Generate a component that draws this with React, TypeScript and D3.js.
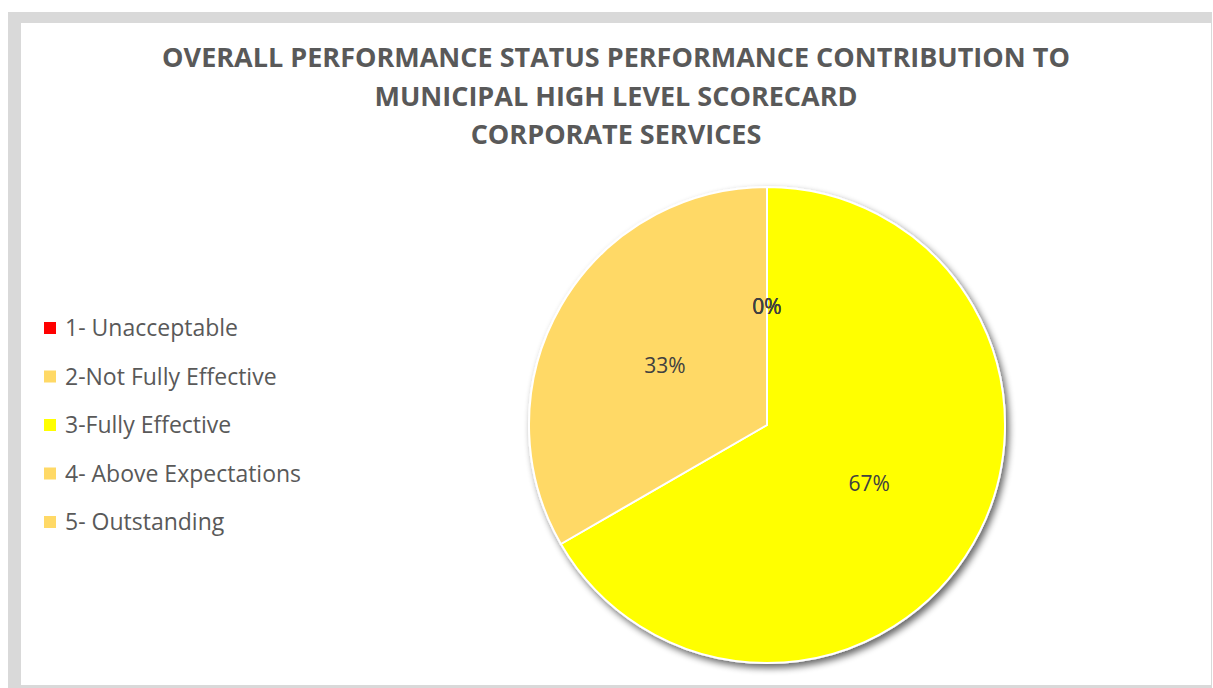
import React from "react";
import * as d3 from "d3";

const categories = ["1- Unacceptable", "2-Not Fully Effective", "3-Fully Effective", "4- Above Expectations", "5- Outstanding"];
const values = [0, 0, 2, 1, 0];
const colors = ["#ff0000", "#ffd966", "#ffff00", "#ffd966", "#ffd966"];
const titleLines = ["OVERALL PERFORMANCE STATUS PERFORMANCE CONTRIBUTION TO", "MUNICIPAL HIGH LEVEL SCORECARD", "CORPORATE SERVICES"];

const W = 1213, H = 688;
const cx = 767, cy = 425, R = 238;
const FONT = "'Open Sans', sans-serif";

export default function App() {
  const total = d3.sum(values);
  const pie = d3.pie<number>().sort(null).value((d) => d);
  const arcs = pie(values);
  const arc = d3.arc<d3.PieArcDatum<number>>().innerRadius(0).outerRadius(R);
  const labelArc = d3.arc<d3.PieArcDatum<number>>().innerRadius(118).outerRadius(118);
  const fmt = d3.format(".0%");
  const legendY = d3.scalePoint<string>().domain(categories).range([328, 522]);

  return (
    <svg width={W} height={H} style={{ position: "absolute", left: 0, top: 0, background: "#fff" }}>
      <defs>
        <filter id="sh" x="-20%" y="-20%" width="140%" height="140%">
          <feGaussianBlur in="SourceAlpha" stdDeviation="3.5" />
          <feOffset dx="3" dy="4" result="b" />
          <feComponentTransfer>
            <feFuncA type="linear" slope="0.6" />
          </feComponentTransfer>
          <feMerge>
            <feMergeNode />
            <feMergeNode in="SourceGraphic" />
          </feMerge>
        </filter>
      </defs>
      <rect x={8} y={12} width={1204} height={680} fill="#d9d9d9" />
      <rect x={21} y={23} width={1190} height={662} fill="#ffffff" />
      {titleLines.map((t, i) => (
        <text key={i} x={616} y={67 + i * 38.5} textAnchor="middle" fontFamily={FONT} fontWeight="bold" fontSize={27} fill="#595959">
          {t}
        </text>
      ))}
      <g transform={`translate(${cx},${cy})`}>
        <g filter="url(#sh)">
          {arcs.map((a, i) => (
            <path key={i} d={arc(a) || ""} fill={colors[i]} stroke="#fff" strokeWidth={2} />
          ))}
        </g>
        {arcs.map((a, i) => {
          const [x, y] = labelArc.centroid(a);
          return (
            <text key={i} x={x} y={y} dy="0.35em" textAnchor="middle" fontFamily={FONT} fontSize={21} fill="#404040">
              {fmt(values[i] / total)}
            </text>
          );
        })}
      </g>
      {categories.map((c, i) => (
        <g key={c} transform={`translate(0,${legendY(c)})`}>
          <rect x={44} y={-6} width={12} height={12} fill={colors[i]} />
          <text x={65} y={0} dy="0.35em" fontFamily={FONT} fontSize={23} fill="#595959">
            {c}
          </text>
        </g>
      ))}
    </svg>
  );
}
